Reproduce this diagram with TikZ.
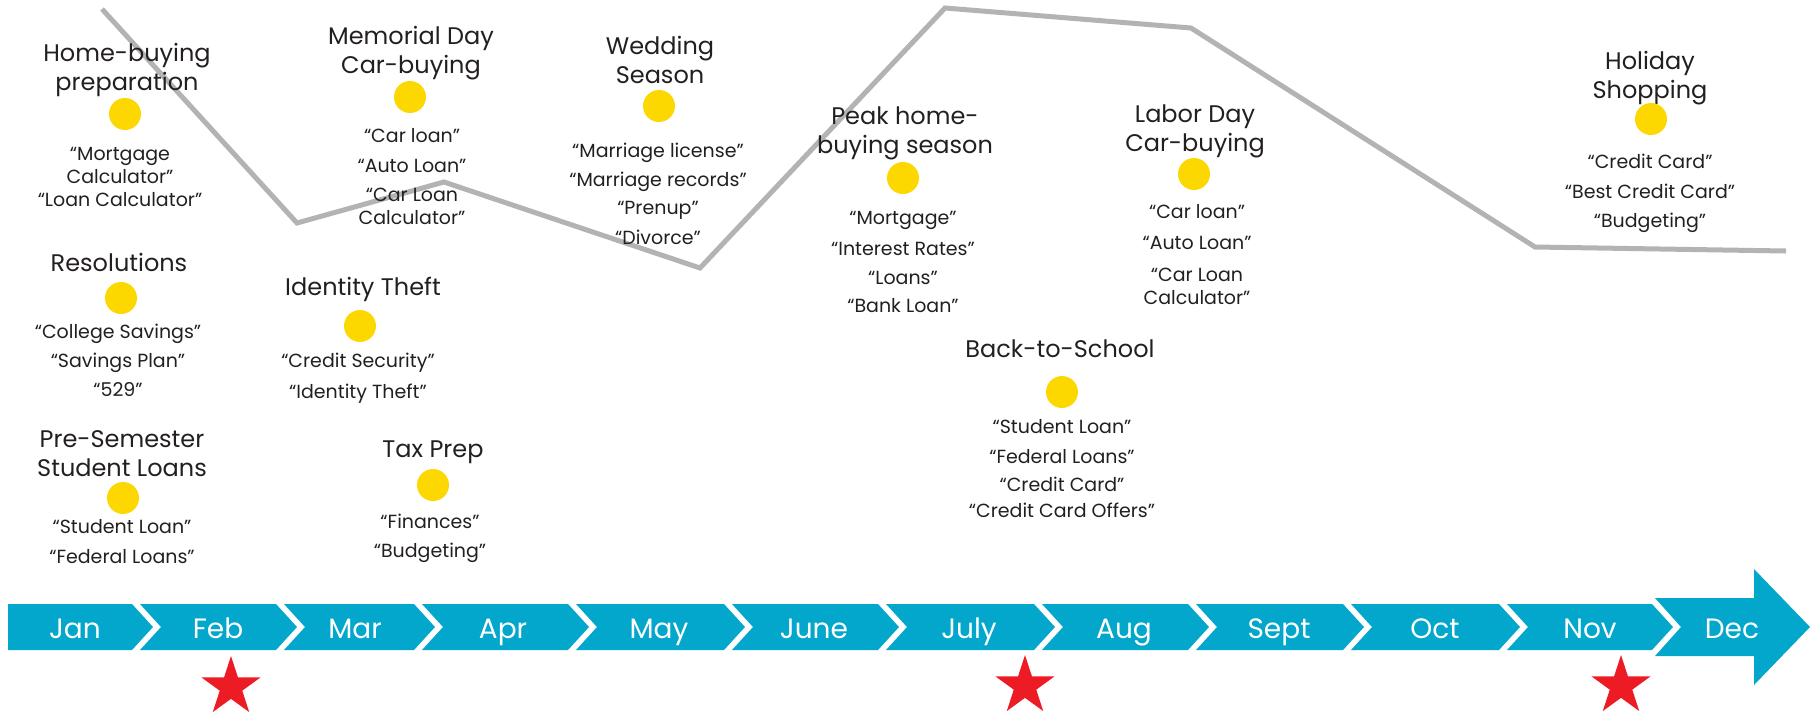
\documentclass[tikz,border=0pt]{standalone}
\usepackage{fontspec}
\setmainfont{Poppins}
\usetikzlibrary{shapes.geometric}

\definecolor{barblue}{HTML}{03A7CB}
\definecolor{dotyellow}{HTML}{FDD700}
\definecolor{starred}{HTML}{ED1C24}
\definecolor{trendgrey}{HTML}{B3B3B3}
\definecolor{ink}{HTML}{231F20}

\begin{document}
% text nodes are placed by the baseline of their last line
\begin{tikzpicture}[x=1pt,y=-1pt,
  title/.style={font=\fontsize{24}{29}\selectfont, text=ink, align=center, anchor=base, inner sep=0pt},
  kw/.style={font=\fontsize{19}{23}\selectfont, text=ink, align=center, anchor=base, inner sep=0pt},
  dot/.style={circle, fill=dotyellow, minimum size=32pt, inner sep=0pt},
  month/.style={font=\fontsize{28}{30}\selectfont, text=white, anchor=base, inner sep=0pt},
  redstar/.style={star, star points=5, star point ratio=2.618, fill=starred, draw=none, minimum size=62pt, inner sep=0pt},
  trend/.style={draw=trendgrey, line width=5pt, line join=miter}
]
\useasboundingbox (0,0) rectangle (1818,716);

% interest trend across the year
\draw[trend] (102,9) -- (297,223) -- (444,182) -- (700,268) -- (945,8) -- (1191,28) -- (1535,247) -- (1786,251);

% month bar: January block, chevron segments, December arrow
\fill[barblue] (8,604) -- (132,604) -- (153,627) -- (132,650) -- (8,650) -- cycle;
\foreach \a/\b in {132/276, 276/414, 414/568, 568/724, 724/878, 878/1034, 1034/1188, 1188/1343, 1343/1499, 1499/1652} {
  \fill[barblue] (\a+8,604) -- (\b,604) -- (\b+21,627) -- (\b,650) -- (\a+8,650) -- (\a+29,627) -- cycle;
}
\fill[barblue] (1655,598) -- (1754,598) -- (1754,569) -- (1810,627) -- (1754,685) -- (1754,656) -- (1655,656) -- (1681,627) -- cycle;

% month labels
\node[month] (jan) at (75,638) {Jan};
\node[month] (feb) at (218,638) {Feb};
\node[month] (mar) at (355,638) {Mar};
\node[month] (apr) at (503,638) {Apr};
\node[month] (may) at (659,638) {May};
\node[month] (jun) at (814,638) {June};
\node[month] (jul) at (969,638) {July};
\node[month] (aug) at (1124,638) {Aug};
\node[month] (sep) at (1279,638) {Sept};
\node[month] (oct) at (1435,638) {Oct};
\node[month] (nov) at (1590,638) {Nov};
\node[month] (dec) at (1732,638) {Dec};

% key months
\node[redstar] (s1) at (231,687) {};
\node[redstar] (s2) at (1025,686) {};
\node[redstar] (s3) at (1621,686) {};

% events
\node[title] (t1) at (127,90) {Home-buying\\preparation};
\node[dot] (d1) at (125,114) {};
\node[kw] (k1) at (120,206) {“Mortgage\\Calculator”\\“Loan Calculator”};

\node[title] (t2) at (119,271) {Resolutions};
\node[dot] (d2) at (121,298) {};
\node[kw] (k2) at (118,396) {“College Savings”\\[6pt]“Savings Plan”\\[6pt]“529”};

\node[title] (t3) at (122,476) {Pre-Semester\\Student Loans};
\node[dot] (d3) at (123,498) {};
\node[kw] (k3) at (122,563) {“Student Loan”\\[7pt]“Federal Loans”};

\node[title] (t4) at (411,73) {Memorial Day\\Car-buying};
\node[dot] (d4) at (410,97) {};
\node[kw] (k4) at (412,224) {“Car loan”\\[7pt]“Auto Loan”\\[6pt]“Car Loan\\Calculator”};

\node[title] (t5) at (363,295) {Identity Theft};
\node[dot] (d5) at (360,326) {};
\node[kw] (k5) at (358,398) {“Credit Security”\\[8pt]“Identity Theft”};

\node[title] (t6) at (433,457) {Tax Prep};
\node[dot] (d6) at (433,485) {};
\node[kw] (k6) at (430,557) {“Finances”\\[6pt]“Budgeting”};

\node[title] (t7) at (660,83) {Wedding\\Season};
\node[dot] (d7) at (659,106) {};
\node[kw] (k7) at (658,244) {“Marriage license”\\[6pt]“Marriage records”\\[5pt]“Prenup”\\[7pt]“Divorce”};

\node[title] (t8) at (905,153) {Peak home-\\buying season};
\node[dot] (d8) at (903,178) {};
\node[kw] (k8) at (903,312) {“Mortgage”\\[8pt]“Interest Rates”\\[6pt]“Loans”\\[5pt]“Bank Loan”};

\node[title] (t9) at (1195,151) {Labor Day\\Car-buying};
\node[dot] (d9) at (1194,174) {};
\node[kw] (k9) at (1197,304) {“Car loan”\\[8pt]“Auto Loan”\\[9pt]“Car Loan\\Calculator”};

\node[title] (t10) at (1060,357) {Back-to-School};
\node[dot] (d10) at (1062,392) {};
\node[kw] (k10) at (1062,517) {“Student Loan”\\[7pt]“Federal Loans”\\[5pt]“Credit Card”\\[3pt]“Credit Card Offers”};

\node[title] (t11) at (1650,98) {Holiday\\Shopping};
\node[dot] (d11) at (1651,119) {};
\node[kw] (k11) at (1650,227) {“Credit Card”\\[7pt]“Best Credit Card”\\[6pt]“Budgeting”};
\end{tikzpicture}
\end{document}
